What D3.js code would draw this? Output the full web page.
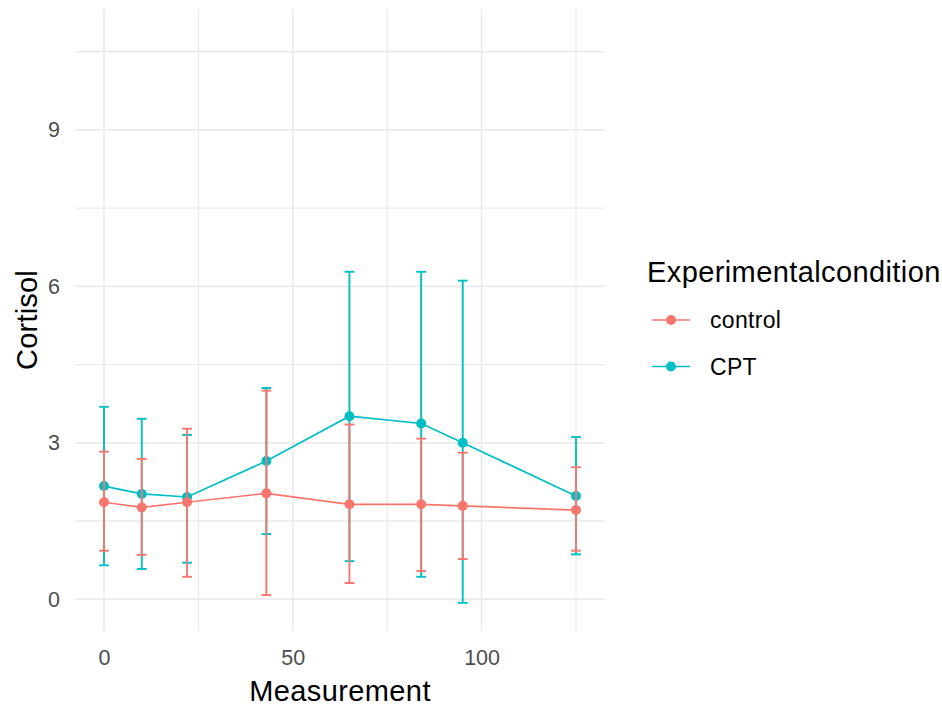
<!DOCTYPE html>
<html>
<head>
<meta charset="utf-8">
<script src="https://d3js.org/d3.v7.min.js"></script>
<style>
  body { margin: 0; background: #fff; }
  text { font-family: "Liberation Sans", Arial, sans-serif; }
</style>
</head>
<body>
<svg id="drawing_region"></svg>
<script>
// values
const measurement = [0, 10, 22, 43, 65, 84, 95, 125];
const controlMean = [1.86, 1.76, 1.86, 2.03, 1.82, 1.82, 1.79, 1.71];
const controlLow  = [0.93, 0.85, 0.43, 0.08, 0.31, 0.54, 0.77, 0.93];
const controlHigh = [2.83, 2.69, 3.27, 4.00, 3.35, 3.08, 2.81, 2.53];
const cptMean = [2.17, 2.02, 1.96, 2.65, 3.51, 3.37, 3.00, 1.98];
const cptLow  = [0.65, 0.58, 0.70, 1.25, 0.73, 0.43, -0.07, 0.86];
const cptHigh = [3.69, 3.46, 3.15, 4.05, 6.28, 6.28, 6.11, 3.11];

const groups = ['control', 'CPT'];
const colors = ['#F8766D', '#00BFC4'];
const xTicks = [0, 50, 100];
const xMinor = [25, 75, 125];
const yTicks = [0, 3, 6, 9];
const yMinor = [1.5, 4.5, 7.5, 10.5];
const xDomain = [-7.68, 132.68];
const yDomain = [-0.61, 11.32];
const capWidth = 2.6;

const series = [
    { name: 'CPT', color: colors[1], mean: cptMean, low: cptLow, high: cptHigh },
    { name: 'control', color: colors[0], mean: controlMean, low: controlLow, high: controlHigh }
].map(s => ({
    name: s.name,
    color: s.color,
    values: measurement.map((m, i) => ({ x: m, y: s.mean[i], lo: s.low[i], hi: s.high[i] }))
}));

class ErrorLineChart {
    constructor(config, data) {
        this.config = config;
        this.data = data;
        this.init();
    }
    init() {
        let self = this;
        self.svg = d3.select(self.config.parent)
            .attr('width', self.config.width)
            .attr('height', self.config.height);

        self.inner_width = self.config.width - self.config.margin.left - self.config.margin.right;
        self.inner_height = self.config.height - self.config.margin.top - self.config.margin.bottom;

        self.chart = self.svg.append('g')
            .attr('transform', `translate(${self.config.margin.left}, ${self.config.margin.top})`);

        self.xscale = d3.scaleLinear().domain(xDomain).range([0, self.inner_width]);
        self.yscale = d3.scaleLinear().domain(yDomain).range([self.inner_height, 0]);
    }
    render() {
        let self = this;
        const grid = self.chart.append('g');

        // grid lines (theme_minimal)
        grid.selectAll('.ymin').data(yMinor).join('line')
            .attr('x1', 0).attr('x2', self.inner_width)
            .attr('y1', d => self.yscale(d)).attr('y2', d => self.yscale(d))
            .attr('stroke', '#EBEBEB').attr('stroke-width', 1.3);
        grid.selectAll('.xmin').data(xMinor).join('line')
            .attr('y1', 0).attr('y2', self.inner_height)
            .attr('x1', d => self.xscale(d)).attr('x2', d => self.xscale(d))
            .attr('stroke', '#EBEBEB').attr('stroke-width', 1.3);
        grid.selectAll('.ymaj').data(yTicks).join('line')
            .attr('x1', 0).attr('x2', self.inner_width)
            .attr('y1', d => self.yscale(d)).attr('y2', d => self.yscale(d))
            .attr('stroke', '#EBEBEB').attr('stroke-width', 1.7);
        grid.selectAll('.xmaj').data(xTicks).join('line')
            .attr('y1', 0).attr('y2', self.inner_height)
            .attr('x1', d => self.xscale(d)).attr('x2', d => self.xscale(d))
            .attr('stroke', '#EBEBEB').attr('stroke-width', 1.7);

        // axes (labels only)
        const xaxis = d3.axisBottom(self.xscale).tickValues(xTicks).tickSize(0).tickPadding(19);
        const yaxis = d3.axisLeft(self.yscale).tickValues(yTicks).tickSize(0).tickPadding(15);
        const xg = self.chart.append('g').attr('transform', `translate(0, ${self.inner_height})`).call(xaxis);
        const yg = self.chart.append('g').call(yaxis);
        [xg, yg].forEach(g => {
            g.select('.domain').remove();
            g.selectAll('text')
                .attr('fill', '#4D4D4D')
                .style('font-size', '21.5px')
                .style('font-family', '"Liberation Sans", Arial, sans-serif');
        });

        const line = d3.line().x(d => self.xscale(d.x)).y(d => self.yscale(d.y));

        self.data.forEach(s => {
            const g = self.chart.append('g');
            g.append('path')
                .datum(s.values)
                .attr('d', line)
                .attr('fill', 'none')
                .attr('stroke', s.color)
                .attr('stroke-width', 1.7);

            const eb = g.selectAll('.eb').data(s.values).join('g');
            eb.append('line')
                .attr('x1', d => self.xscale(d.x)).attr('x2', d => self.xscale(d.x))
                .attr('y1', d => self.yscale(d.lo)).attr('y2', d => self.yscale(d.hi))
                .attr('stroke', s.color).attr('stroke-width', 1.9);
            eb.append('line')
                .attr('x1', d => self.xscale(d.x - capWidth / 2)).attr('x2', d => self.xscale(d.x + capWidth / 2))
                .attr('y1', d => self.yscale(d.hi)).attr('y2', d => self.yscale(d.hi))
                .attr('stroke', s.color).attr('stroke-width', 1.9);
            eb.append('line')
                .attr('x1', d => self.xscale(d.x - capWidth / 2)).attr('x2', d => self.xscale(d.x + capWidth / 2))
                .attr('y1', d => self.yscale(d.lo)).attr('y2', d => self.yscale(d.lo))
                .attr('stroke', s.color).attr('stroke-width', 1.9);

            g.selectAll('circle').data(s.values).join('circle')
                .attr('cx', d => self.xscale(d.x))
                .attr('cy', d => self.yscale(d.y))
                .attr('r', 5)
                .attr('fill', s.color);
        });

        // axis titles
        self.svg.append('text')
            .attr('x', self.config.margin.left + self.inner_width / 2)
            .attr('y', 701)
            .attr('text-anchor', 'middle')
            .style('font-size', '29px')
            .style('letter-spacing', '0.4px')
            .attr('fill', '#000')
            .text('Measurement');
        self.svg.append('text')
            .attr('transform', `translate(37, ${self.config.margin.top + self.inner_height / 2}) rotate(-90)`)
            .attr('text-anchor', 'middle')
            .style('font-size', '29px')
            .style('letter-spacing', '0.2px')
            .attr('fill', '#000')
            .text('Cortisol');

        // legend
        const legend = self.svg.append('g').attr('transform', 'translate(647, 0)');
        legend.append('text')
            .attr('x', 0).attr('y', 282)
            .style('font-size', '29px')
            .style('letter-spacing', '0.4px')
            .attr('fill', '#000')
            .text('Experimentalcondition');
        const items = legend.selectAll('.item').data(groups).join('g')
            .attr('transform', (d, i) => `translate(0, ${320 + i * 46.5})`);
        items.append('line')
            .attr('x1', 5).attr('x2', 43).attr('y1', 0).attr('y2', 0)
            .attr('stroke', (d, i) => colors[i]).attr('stroke-width', 1.7);
        items.append('circle')
            .attr('cx', 24).attr('cy', 0).attr('r', 5)
            .attr('fill', (d, i) => colors[i]);
        items.append('text')
            .attr('x', 63).attr('y', 0).attr('dy', '0.36em')
            .style('font-size', '23px')
            .style('letter-spacing', '0.3px')
            .attr('fill', '#000')
            .text(d => d);
    }
}

const chart = new ErrorLineChart({
    parent: '#drawing_region',
    width: 942,
    height: 706,
    margin: { top: 9, right: 337, bottom: 75, left: 75 }
}, series);
chart.render();
</script>
</body>
</html>
